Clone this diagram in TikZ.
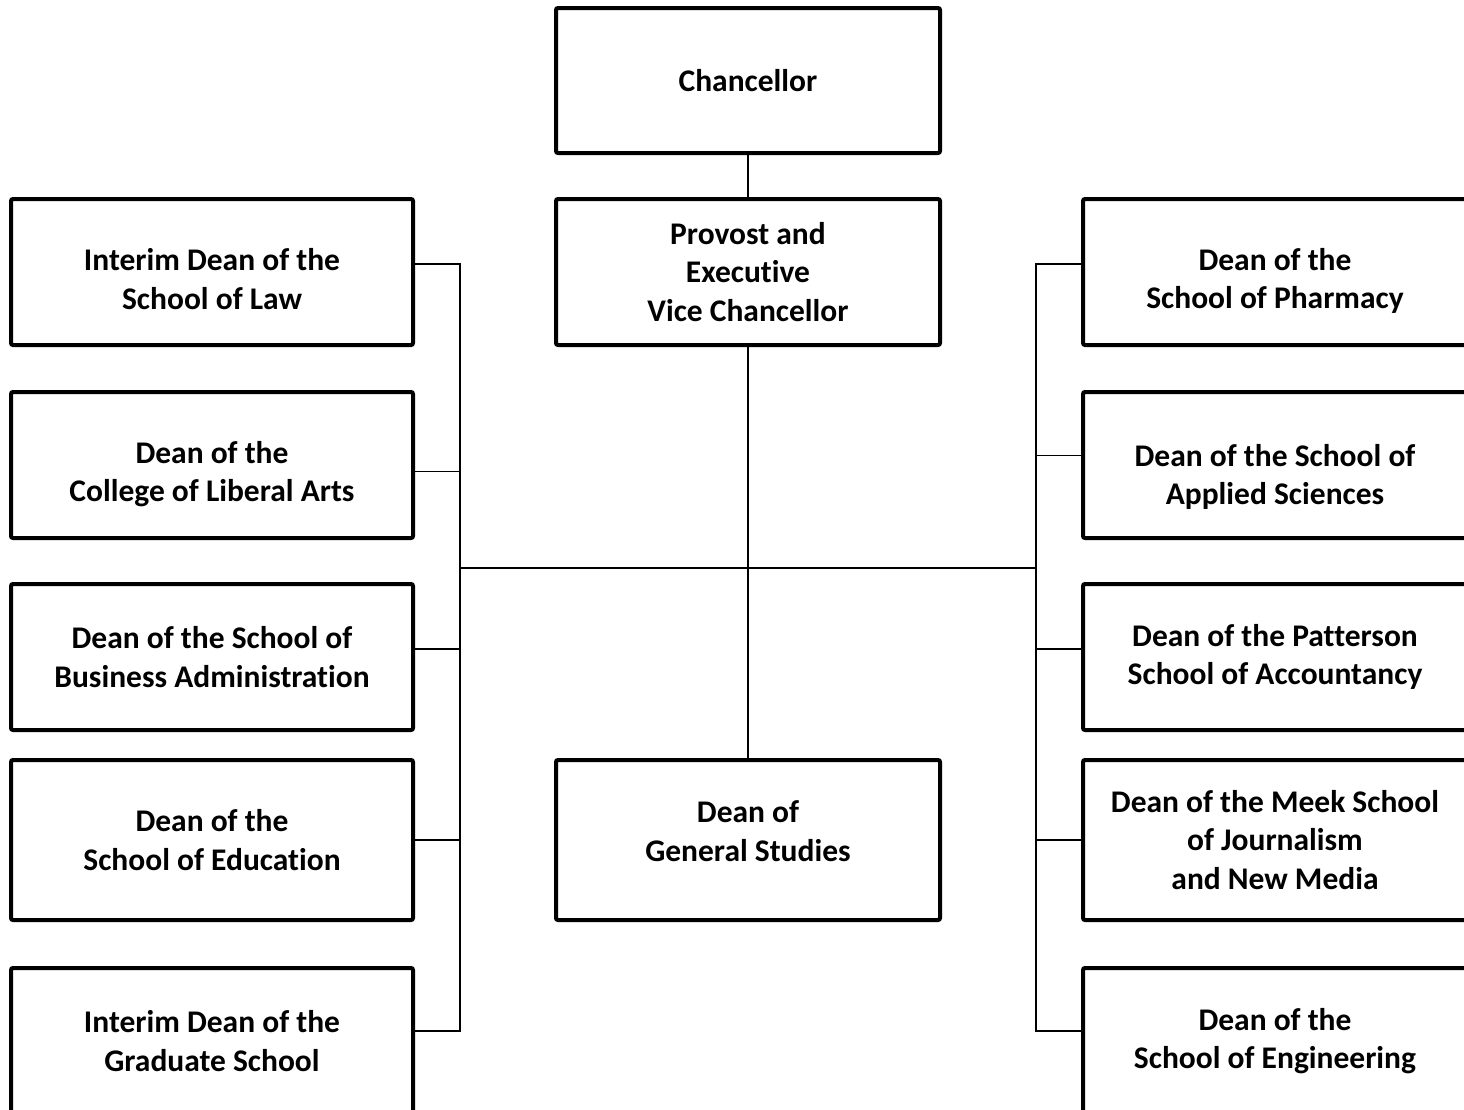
\documentclass[tikz,border=0pt]{standalone}
\usepackage{fontspec}
\setmainfont{Carlito}[Ligatures=NoCommon]
\usetikzlibrary{positioning}

\begin{document}
\begin{tikzpicture}[x=0.5pt, y=-0.5pt, node distance=23pt and 71.5pt,
	boxtext/.style={align=center, font=\bfseries\fontsize{15.75pt}{19.2pt}\selectfont},
	box/.style={rectangle, draw, line width=2pt, outer sep=0pt, rounded corners=1pt, minimum width=192pt, minimum height=73pt, boxtext},
	widebox/.style={box, minimum width=201pt},
	tallbox/.style={minimum height=80pt},
	link/.style={line width=0.6pt}]
			\useasboundingbox (0,0) rectangle (1464,1110);
			\clip (0,0) rectangle (1464,1110);
			
			\node[box, minimum height=72.5pt] (chancellor) at (748,80.5) {Chancellor};
			\node[box, below=of chancellor] (provost) {Provost and\\Executive\\Vice Chancellor};
			
			\node[widebox, left=of provost, label={[boxtext, yshift=-3.5pt]center:Interim Dean of the\\School of Law}] (law) {};
			\node[widebox, below=23.5pt of law, label={[boxtext, yshift=-4.5pt]center:Dean of the\\College of Liberal Arts}] (liberal) {};
			\node[widebox, below=23pt of liberal] (business) {Dean of the School of\\Business Administration};
			\node[widebox, tallbox, below=15pt of business] (education) {Dean of the\\School of Education};
			\node[widebox, below=24pt of education] (graduate) {Interim Dean of the\\Graduate School};
			
			\node[box, right=of provost, label={[boxtext, yshift=-4.5pt]center:Dean of the\\School of Pharmacy}] (pharmacy) {};
			\node[box, below=23.5pt of pharmacy, label={[boxtext, yshift=-6pt]center:Dean of the School of\\Applied Sciences}] (applied) {};
			\node[box, below=23pt of applied] (patterson) {Dean of the Patterson\\School of Accountancy};
			\node[box, tallbox, below=15pt of patterson] (meek) {Dean of the Meek School\\of Journalism\\and New Media};
			\node[box, below=24pt of meek] (engineering) {Dean of the\\School of Engineering};
			
			\node[box, tallbox, right=of education, label={[boxtext, yshift=4.5pt]center:Dean of\\General Studies}] (general) {};
			
			\coordinate (lbus) at (460,568);
			\coordinate (rbus) at (1036,568);
			
			\draw[link] (chancellor) -- (provost);
			\draw[link] (provost) -- (general);
			\draw[link] (lbus) -- (rbus);
			
			\draw[link] ([yshift=4pt]law.east) -| (lbus);
			\draw[link] ([yshift=-3.25pt]liberal.east) -| (lbus);
			\draw[link] ([yshift=4pt]business.east) -| (lbus);
			\draw[link] (education.east) -| (lbus);
			\draw[link] ([yshift=5pt]graduate.east) -| (lbus);
			
			\draw[link] ([yshift=4pt]pharmacy.west) -| (rbus);
			\draw[link] ([yshift=4.75pt]applied.west) -| (rbus);
			\draw[link] ([yshift=4pt]patterson.west) -| (rbus);
			\draw[link] (meek.west) -| (rbus);
			\draw[link] ([yshift=5pt]engineering.west) -| (rbus);
		\end{tikzpicture}
\end{document}
